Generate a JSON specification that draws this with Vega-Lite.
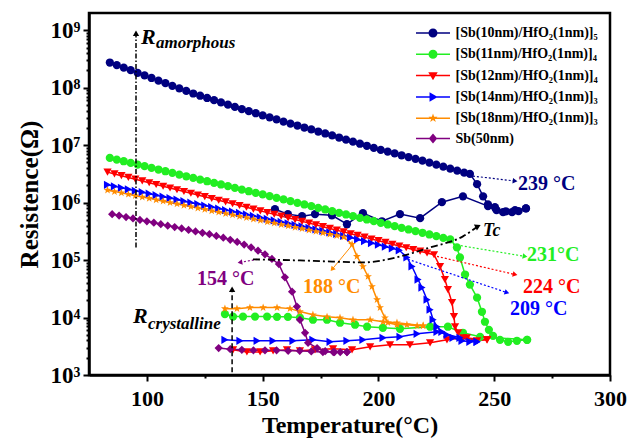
{
"$schema":"https://vega.github.io/schema/vega-lite/v6.json",
"width":521,"height":362,
"autosize":{"type":"none"},
"padding":{"left":89,"top":13,"right":31,"bottom":67},
"background":"white",
"resolve":{"scale":{"shape":"independent"},"legend":{"color":"independent","shape":"independent"}},
"config":{
"view":{"stroke":"black","strokeWidth":2.5},
"font":"Liberation Serif, Times New Roman, DejaVu Serif, serif",
"axis":{"domainColor":"black","domainWidth":2.5,"tickColor":"black","tickWidth":2,"labelColor":"black","titleColor":"black","labelFont":"Liberation Serif, Times New Roman, DejaVu Serif, serif","titleFont":"Liberation Serif, Times New Roman, DejaVu Serif, serif","labelFontWeight":"bold","titleFontWeight":"bold","grid":false},
"legend":{"labelFont":"Liberation Serif, Times New Roman, DejaVu Serif, serif","labelFontWeight":"bold","labelFontSize":14,"labelColor":"black"}
},
"datasets":{
"curves":[
{"s":"A","run":"h","T":84,"R":2.75e8},{"s":"A","run":"h","T":87,"R":2.48e8},{"s":"A","run":"h","T":90,"R":2.24e8},{"s":"A","run":"h","T":93,"R":2.02e8},{"s":"A","run":"h","T":96,"R":1.82e8},{"s":"A","run":"h","T":99,"R":1.64e8},{"s":"A","run":"h","T":102,"R":1.48e8},{"s":"A","run":"h","T":105,"R":1.33e8},{"s":"A","run":"h","T":108,"R":1.2e8},{"s":"A","run":"h","T":111,"R":1.08e8},{"s":"A","run":"h","T":114,"R":9.77e7},{"s":"A","run":"h","T":117,"R":8.81e7},{"s":"A","run":"h","T":120,"R":7.94e7},{"s":"A","run":"h","T":123,"R":7.26e7},{"s":"A","run":"h","T":126,"R":6.64e7},{"s":"A","run":"h","T":129,"R":6.07e7},{"s":"A","run":"h","T":132,"R":5.55e7},{"s":"A","run":"h","T":135,"R":5.07e7},{"s":"A","run":"h","T":138,"R":4.63e7},{"s":"A","run":"h","T":141,"R":4.25e7},{"s":"A","run":"h","T":144,"R":3.91e7},{"s":"A","run":"h","T":147,"R":3.6e7},{"s":"A","run":"h","T":150,"R":3.31e7},{"s":"A","run":"h","T":153,"R":3.05e7},{"s":"A","run":"h","T":156,"R":2.81e7},{"s":"A","run":"h","T":159,"R":2.58e7},{"s":"A","run":"h","T":162,"R":2.38e7},{"s":"A","run":"h","T":165,"R":2.2e7},{"s":"A","run":"h","T":168,"R":2.03e7},{"s":"A","run":"h","T":171,"R":1.88e7},{"s":"A","run":"h","T":174,"R":1.73e7},{"s":"A","run":"h","T":177,"R":1.6e7},{"s":"A","run":"h","T":180,"R":1.48e7},{"s":"A","run":"h","T":183,"R":1.36e7},{"s":"A","run":"h","T":186,"R":1.25e7},{"s":"A","run":"h","T":189,"R":1.15e7},{"s":"A","run":"h","T":192,"R":1.06e7},{"s":"A","run":"h","T":195,"R":9.77e6},{"s":"A","run":"h","T":198,"R":8.99e6},{"s":"A","run":"h","T":201,"R":8.31e6},{"s":"A","run":"h","T":204,"R":7.73e6},{"s":"A","run":"h","T":207,"R":7.19e6},{"s":"A","run":"h","T":210,"R":6.68e6},{"s":"A","run":"h","T":213,"R":6.22e6},{"s":"A","run":"h","T":216,"R":5.78e6},{"s":"A","run":"h","T":219,"R":5.38e6},{"s":"A","run":"h","T":222,"R":4.98e6},{"s":"A","run":"h","T":225,"R":4.59e6},{"s":"A","run":"h","T":228,"R":4.25e6},{"s":"A","run":"h","T":231,"R":3.92e6},{"s":"A","run":"h","T":234,"R":3.61e6},{"s":"A","run":"h","T":237,"R":3.33e6},{"s":"A","run":"h","T":239.5,"R":3.16e6},{"s":"A","run":"h","T":242.6,"R":2.1e6},{"s":"A","run":"h","T":245.2,"R":1.29e6},{"s":"A","run":"h","T":247.3,"R":9.33e5},{"s":"A","run":"h","T":250.3,"R":8.32e5},{"s":"A","run":"h","T":253.8,"R":6.82e5},{"s":"A","run":"h","T":257.7,"R":6.82e5},{"s":"A","run":"h","T":260.5,"R":7.1e5},{"s":"A","run":"h","T":263.7,"R":7.94e5},
{"s":"A","run":"c","T":263.7,"R":7.94e5},{"s":"A","run":"c","T":259,"R":7.41e5},{"s":"A","run":"c","T":255,"R":7.08e5},{"s":"A","run":"c","T":251,"R":7.41e5},{"s":"A","run":"c","T":247.3,"R":8.71e5},{"s":"A","run":"c","T":236.5,"R":1.29e6},{"s":"A","run":"c","T":227.4,"R":1.02e6},{"s":"A","run":"c","T":218,"R":5.37e5},{"s":"A","run":"c","T":209.3,"R":6.31e5},{"s":"A","run":"c","T":201.5,"R":4.74e5},{"s":"A","run":"c","T":193.3,"R":6.55e5},{"s":"A","run":"c","T":186.4,"R":4.21e5},{"s":"A","run":"c","T":179.9,"R":6.03e5},{"s":"A","run":"c","T":172.6,"R":6.31e5},{"s":"A","run":"c","T":167,"R":5.81e5},{"s":"A","run":"c","T":160.9,"R":6.31e5},{"s":"A","run":"c","T":155.3,"R":7.69e5},
{"s":"B","run":"h","T":84,"R":6.01e6},{"s":"B","run":"h","T":87,"R":5.62e6},{"s":"B","run":"h","T":90,"R":5.26e6},{"s":"B","run":"h","T":93,"R":4.92e6},{"s":"B","run":"h","T":96,"R":4.6e6},{"s":"B","run":"h","T":99,"R":4.31e6},{"s":"B","run":"h","T":102,"R":4.03e6},{"s":"B","run":"h","T":105,"R":3.77e6},{"s":"B","run":"h","T":108,"R":3.52e6},{"s":"B","run":"h","T":111,"R":3.3e6},{"s":"B","run":"h","T":114,"R":3.08e6},{"s":"B","run":"h","T":117,"R":2.88e6},{"s":"B","run":"h","T":120,"R":2.7e6},{"s":"B","run":"h","T":123,"R":2.52e6},{"s":"B","run":"h","T":126,"R":2.36e6},{"s":"B","run":"h","T":129,"R":2.21e6},{"s":"B","run":"h","T":132,"R":2.07e6},{"s":"B","run":"h","T":135,"R":1.94e6},{"s":"B","run":"h","T":138,"R":1.81e6},{"s":"B","run":"h","T":141,"R":1.69e6},{"s":"B","run":"h","T":144,"R":1.58e6},{"s":"B","run":"h","T":147,"R":1.48e6},{"s":"B","run":"h","T":150,"R":1.39e6},{"s":"B","run":"h","T":153,"R":1.3e6},{"s":"B","run":"h","T":156,"R":1.21e6},{"s":"B","run":"h","T":159,"R":1.14e6},{"s":"B","run":"h","T":162,"R":1.06e6},{"s":"B","run":"h","T":165,"R":9.93e5},{"s":"B","run":"h","T":168,"R":9.29e5},{"s":"B","run":"h","T":171,"R":8.69e5},{"s":"B","run":"h","T":174,"R":8.13e5},{"s":"B","run":"h","T":177,"R":7.6e5},{"s":"B","run":"h","T":180,"R":7.11e5},{"s":"B","run":"h","T":183,"R":6.65e5},{"s":"B","run":"h","T":186,"R":6.22e5},{"s":"B","run":"h","T":189,"R":5.82e5},{"s":"B","run":"h","T":192,"R":5.44e5},{"s":"B","run":"h","T":195,"R":5.09e5},{"s":"B","run":"h","T":198,"R":4.76e5},{"s":"B","run":"h","T":201,"R":4.46e5},{"s":"B","run":"h","T":204,"R":4.17e5},{"s":"B","run":"h","T":207,"R":3.9e5},{"s":"B","run":"h","T":210,"R":3.65e5},{"s":"B","run":"h","T":213,"R":3.41e5},{"s":"B","run":"h","T":216,"R":3.19e5},{"s":"B","run":"h","T":219,"R":2.99e5},{"s":"B","run":"h","T":222,"R":2.79e5},{"s":"B","run":"h","T":225,"R":2.61e5},{"s":"B","run":"h","T":228,"R":2.44e5},{"s":"B","run":"h","T":231,"R":2.29e5},{"s":"B","run":"h","T":233.9,"R":1.66e5},{"s":"B","run":"h","T":235.2,"R":1.11e5},{"s":"B","run":"h","T":237.4,"R":5.61e4},{"s":"B","run":"h","T":239.5,"R":3.75e4},{"s":"B","run":"h","T":242.6,"R":2.22e4},{"s":"B","run":"h","T":244.7,"R":1.26e4},{"s":"B","run":"h","T":246,"R":8.45e3},{"s":"B","run":"h","T":247.7,"R":6.12e3},{"s":"B","run":"h","T":249.5,"R":4.81e3},{"s":"B","run":"h","T":252.5,"R":4.09e3},{"s":"B","run":"h","T":256,"R":3.78e3},{"s":"B","run":"h","T":259.8,"R":3.94e3},{"s":"B","run":"h","T":264.2,"R":4.09e3},
{"s":"B","run":"c","T":264.2,"R":4.09e3},{"s":"B","run":"c","T":243.9,"R":4.62e3},{"s":"B","run":"c","T":236.5,"R":5.43e3},{"s":"B","run":"c","T":230,"R":6.92e3},{"s":"B","run":"c","T":222.3,"R":6.92e3},{"s":"B","run":"c","T":209.3,"R":6.38e3},{"s":"B","run":"c","T":201.9,"R":6.64e3},{"s":"B","run":"c","T":195.1,"R":6.92e3},{"s":"B","run":"c","T":189.9,"R":7.5e3},{"s":"B","run":"c","T":183.4,"R":8.13e3},{"s":"B","run":"c","T":177.8,"R":9.16e3},{"s":"B","run":"c","T":171.7,"R":9.16e3},{"s":"B","run":"c","T":166.1,"R":9.93e3},{"s":"B","run":"c","T":160.9,"R":1.03e4},{"s":"B","run":"c","T":156.2,"R":1.03e4},{"s":"B","run":"c","T":151.9,"R":1.04e4},{"s":"B","run":"c","T":146.7,"R":1.04e4},{"s":"B","run":"c","T":141.5,"R":1.04e4},{"s":"B","run":"c","T":137.2,"R":1.04e4},{"s":"B","run":"c","T":133.7,"R":1.15e4},
{"s":"C","run":"h","T":83,"R":3.4e6},{"s":"C","run":"h","T":86,"R":3.16e6},{"s":"C","run":"h","T":89,"R":2.95e6},{"s":"C","run":"h","T":92,"R":2.75e6},{"s":"C","run":"h","T":95,"R":2.56e6},{"s":"C","run":"h","T":98,"R":2.39e6},{"s":"C","run":"h","T":101,"R":2.22e6},{"s":"C","run":"h","T":104,"R":2.07e6},{"s":"C","run":"h","T":107,"R":1.93e6},{"s":"C","run":"h","T":110,"R":1.8e6},{"s":"C","run":"h","T":113,"R":1.68e6},{"s":"C","run":"h","T":116,"R":1.56e6},{"s":"C","run":"h","T":119,"R":1.46e6},{"s":"C","run":"h","T":122,"R":1.36e6},{"s":"C","run":"h","T":125,"R":1.27e6},{"s":"C","run":"h","T":128,"R":1.18e6},{"s":"C","run":"h","T":131,"R":1.1e6},{"s":"C","run":"h","T":134,"R":1.03e6},{"s":"C","run":"h","T":137,"R":9.55e5},{"s":"C","run":"h","T":140,"R":8.91e5},{"s":"C","run":"h","T":143,"R":8.3e5},{"s":"C","run":"h","T":146,"R":7.73e5},{"s":"C","run":"h","T":149,"R":7.21e5},{"s":"C","run":"h","T":152,"R":6.71e5},{"s":"C","run":"h","T":155,"R":6.27e5},{"s":"C","run":"h","T":158,"R":5.83e5},{"s":"C","run":"h","T":161,"R":5.43e5},{"s":"C","run":"h","T":164,"R":5.07e5},{"s":"C","run":"h","T":167,"R":4.72e5},{"s":"C","run":"h","T":170,"R":4.41e5},{"s":"C","run":"h","T":173,"R":4.1e5},{"s":"C","run":"h","T":176,"R":3.82e5},{"s":"C","run":"h","T":179,"R":3.56e5},{"s":"C","run":"h","T":182,"R":3.32e5},{"s":"C","run":"h","T":185,"R":3.1e5},{"s":"C","run":"h","T":188,"R":2.88e5},{"s":"C","run":"h","T":191,"R":2.69e5},{"s":"C","run":"h","T":194,"R":2.51e5},{"s":"C","run":"h","T":197,"R":2.33e5},{"s":"C","run":"h","T":200,"R":2.18e5},{"s":"C","run":"h","T":203,"R":2.03e5},{"s":"C","run":"h","T":206,"R":1.89e5},{"s":"C","run":"h","T":209,"R":1.76e5},{"s":"C","run":"h","T":212,"R":1.64e5},{"s":"C","run":"h","T":215,"R":1.53e5},{"s":"C","run":"h","T":218,"R":1.43e5},{"s":"C","run":"h","T":221,"R":1.33e5},{"s":"C","run":"h","T":224,"R":1.24e5},{"s":"C","run":"h","T":226.6,"R":7.74e4},{"s":"C","run":"h","T":228.7,"R":4.59e4},{"s":"C","run":"h","T":230,"R":3.07e4},{"s":"C","run":"h","T":231.8,"R":1.82e4},{"s":"C","run":"h","T":232.6,"R":1.04e4},{"s":"C","run":"h","T":233.1,"R":6.92e3},{"s":"C","run":"h","T":234.4,"R":5.43e3},{"s":"C","run":"h","T":238.2,"R":4.44e3},{"s":"C","run":"h","T":242.6,"R":3.94e3},{"s":"C","run":"h","T":246.9,"R":4.09e3},
{"s":"C","run":"c","T":246.9,"R":4.09e3},{"s":"C","run":"c","T":236.5,"R":4.44e3},{"s":"C","run":"c","T":229.6,"R":4.09e3},{"s":"C","run":"c","T":222.3,"R":3.63e3},{"s":"C","run":"c","T":213.6,"R":3.35e3},{"s":"C","run":"c","T":205,"R":3.35e3},{"s":"C","run":"c","T":196.4,"R":3.09e3},{"s":"C","run":"c","T":188.6,"R":2.74e3},{"s":"C","run":"c","T":180.4,"R":2.85e3},{"s":"C","run":"c","T":172.6,"R":2.74e3},{"s":"C","run":"c","T":166.1,"R":2.63e3},{"s":"C","run":"c","T":160.5,"R":2.74e3},{"s":"C","run":"c","T":154.5,"R":2.63e3},{"s":"C","run":"c","T":148.9,"R":2.52e3},{"s":"C","run":"c","T":143.2,"R":2.52e3},{"s":"C","run":"c","T":137.2,"R":2.74e3},
{"s":"D","run":"h","T":83,"R":2.04e6},{"s":"D","run":"h","T":86,"R":1.92e6},{"s":"D","run":"h","T":89,"R":1.81e6},{"s":"D","run":"h","T":92,"R":1.71e6},{"s":"D","run":"h","T":95,"R":1.61e6},{"s":"D","run":"h","T":98,"R":1.52e6},{"s":"D","run":"h","T":101,"R":1.43e6},{"s":"D","run":"h","T":104,"R":1.35e6},{"s":"D","run":"h","T":107,"R":1.27e6},{"s":"D","run":"h","T":110,"R":1.2e6},{"s":"D","run":"h","T":113,"R":1.13e6},{"s":"D","run":"h","T":116,"R":1.06e6},{"s":"D","run":"h","T":119,"R":1e6},{"s":"D","run":"h","T":122,"R":9.44e5},{"s":"D","run":"h","T":125,"R":8.89e5},{"s":"D","run":"h","T":128,"R":8.38e5},{"s":"D","run":"h","T":131,"R":7.89e5},{"s":"D","run":"h","T":134,"R":7.43e5},{"s":"D","run":"h","T":137,"R":7.01e5},{"s":"D","run":"h","T":140,"R":6.61e5},{"s":"D","run":"h","T":143,"R":6.22e5},{"s":"D","run":"h","T":146,"R":5.86e5},{"s":"D","run":"h","T":149,"R":5.52e5},{"s":"D","run":"h","T":152,"R":5.21e5},{"s":"D","run":"h","T":155,"R":4.91e5},{"s":"D","run":"h","T":158,"R":4.62e5},{"s":"D","run":"h","T":161,"R":4.36e5},{"s":"D","run":"h","T":164,"R":4.1e5},{"s":"D","run":"h","T":167,"R":3.87e5},{"s":"D","run":"h","T":170,"R":3.65e5},{"s":"D","run":"h","T":173,"R":3.44e5},{"s":"D","run":"h","T":176,"R":3.24e5},{"s":"D","run":"h","T":179,"R":3.05e5},{"s":"D","run":"h","T":182,"R":2.85e5},{"s":"D","run":"h","T":185,"R":2.65e5},{"s":"D","run":"h","T":188,"R":2.47e5},{"s":"D","run":"h","T":191,"R":2.29e5},{"s":"D","run":"h","T":194,"R":2.13e5},{"s":"D","run":"h","T":197,"R":1.98e5},{"s":"D","run":"h","T":200,"R":1.85e5},{"s":"D","run":"h","T":203,"R":1.71e5},{"s":"D","run":"h","T":206,"R":1.6e5},{"s":"D","run":"h","T":209,"R":1.48e5},{"s":"D","run":"h","T":212.3,"R":1.11e5},{"s":"D","run":"h","T":214.5,"R":7.74e4},{"s":"D","run":"h","T":217.1,"R":4.59e4},{"s":"D","run":"h","T":218.8,"R":3.33e4},{"s":"D","run":"h","T":221,"R":2.05e4},{"s":"D","run":"h","T":222.3,"R":1.37e4},{"s":"D","run":"h","T":223.6,"R":9.16e3},{"s":"D","run":"h","T":225.3,"R":6.92e3},{"s":"D","run":"h","T":227.4,"R":5.65e3},{"s":"D","run":"h","T":229.6,"R":5.01e3},{"s":"D","run":"h","T":232.2,"R":4.44e3},{"s":"D","run":"h","T":236.1,"R":3.94e3},{"s":"D","run":"h","T":239.5,"R":3.78e3},{"s":"D","run":"h","T":242.6,"R":3.78e3},
{"s":"D","run":"c","T":242.6,"R":3.78e3},{"s":"D","run":"c","T":235.2,"R":4.44e3},{"s":"D","run":"c","T":225.3,"R":5.65e3},{"s":"D","run":"c","T":216.7,"R":5.21e3},{"s":"D","run":"c","T":209.3,"R":4.62e3},{"s":"D","run":"c","T":202,"R":4.44e3},{"s":"D","run":"c","T":193.3,"R":4.09e3},{"s":"D","run":"c","T":186.4,"R":3.94e3},{"s":"D","run":"c","T":179.1,"R":3.78e3},{"s":"D","run":"c","T":171.7,"R":4.09e3},{"s":"D","run":"c","T":163.1,"R":3.94e3},{"s":"D","run":"c","T":154.5,"R":3.94e3},{"s":"D","run":"c","T":147.6,"R":3.94e3},{"s":"D","run":"c","T":140.2,"R":3.94e3},{"s":"D","run":"c","T":133.7,"R":4.09e3},
{"s":"E","run":"h","T":83,"R":1.65e6},{"s":"E","run":"h","T":86,"R":1.56e6},{"s":"E","run":"h","T":89,"R":1.48e6},{"s":"E","run":"h","T":92,"R":1.4e6},{"s":"E","run":"h","T":95,"R":1.32e6},{"s":"E","run":"h","T":98,"R":1.25e6},{"s":"E","run":"h","T":101,"R":1.19e6},{"s":"E","run":"h","T":104,"R":1.12e6},{"s":"E","run":"h","T":107,"R":1.06e6},{"s":"E","run":"h","T":110,"R":1e6},{"s":"E","run":"h","T":113,"R":9.51e5},{"s":"E","run":"h","T":116,"R":8.99e5},{"s":"E","run":"h","T":119,"R":8.51e5},{"s":"E","run":"h","T":122,"R":8.05e5},{"s":"E","run":"h","T":125,"R":7.62e5},{"s":"E","run":"h","T":128,"R":7.21e5},{"s":"E","run":"h","T":131,"R":6.82e5},{"s":"E","run":"h","T":134,"R":6.46e5},{"s":"E","run":"h","T":137,"R":6.11e5},{"s":"E","run":"h","T":140,"R":5.78e5},{"s":"E","run":"h","T":143,"R":5.47e5},{"s":"E","run":"h","T":146,"R":5.18e5},{"s":"E","run":"h","T":149,"R":4.9e5},{"s":"E","run":"h","T":152,"R":4.63e5},{"s":"E","run":"h","T":155,"R":4.39e5},{"s":"E","run":"h","T":158,"R":4.15e5},{"s":"E","run":"h","T":161,"R":3.93e5},{"s":"E","run":"h","T":164,"R":3.72e5},{"s":"E","run":"h","T":167,"R":3.52e5},{"s":"E","run":"h","T":170,"R":3.33e5},{"s":"E","run":"h","T":173,"R":3.15e5},{"s":"E","run":"h","T":176,"R":2.98e5},{"s":"E","run":"h","T":179,"R":2.82e5},{"s":"E","run":"h","T":182,"R":2.67e5},{"s":"E","run":"h","T":185,"R":2.52e5},{"s":"E","run":"h","T":188.6,"R":1.88e5},{"s":"E","run":"h","T":190.7,"R":1.16e5},{"s":"E","run":"h","T":193.3,"R":7.74e4},{"s":"E","run":"h","T":195.5,"R":5.18e4},{"s":"E","run":"h","T":197.2,"R":3.46e4},{"s":"E","run":"h","T":199.4,"R":2.05e4},{"s":"E","run":"h","T":200.7,"R":1.49e4},{"s":"E","run":"h","T":202.8,"R":9.93e3},{"s":"E","run":"h","T":204.1,"R":8.13e3},{"s":"E","run":"h","T":208,"R":7.5e3},{"s":"E","run":"h","T":212.3,"R":7.5e3},{"s":"E","run":"h","T":216.7,"R":7.2e3},{"s":"E","run":"h","T":219.3,"R":7.2e3},
{"s":"E","run":"c","T":219.3,"R":7.2e3},{"s":"E","run":"c","T":208,"R":8.13e3},{"s":"E","run":"c","T":202,"R":8.45e3},{"s":"E","run":"c","T":196.4,"R":9.16e3},{"s":"E","run":"c","T":189,"R":9.16e3},{"s":"E","run":"c","T":183.4,"R":9.93e3},{"s":"E","run":"c","T":177.8,"R":1.03e4},{"s":"E","run":"c","T":171.7,"R":1.12e4},{"s":"E","run":"c","T":166.1,"R":1.27e4},{"s":"E","run":"c","T":161.8,"R":1.43e4},{"s":"E","run":"c","T":156.2,"R":1.49e4},{"s":"E","run":"c","T":150.2,"R":1.49e4},{"s":"E","run":"c","T":144.5,"R":1.49e4},{"s":"E","run":"c","T":138.9,"R":1.43e4},{"s":"E","run":"c","T":133.7,"R":1.43e4},
{"s":"F","run":"h","T":85,"R":6.31e5},{"s":"F","run":"h","T":88,"R":5.96e5},{"s":"F","run":"h","T":91,"R":5.62e5},{"s":"F","run":"h","T":94,"R":5.31e5},{"s":"F","run":"h","T":97,"R":5.01e5},{"s":"F","run":"h","T":100,"R":4.73e5},{"s":"F","run":"h","T":103,"R":4.47e5},{"s":"F","run":"h","T":106,"R":4.22e5},{"s":"F","run":"h","T":109,"R":3.98e5},{"s":"F","run":"h","T":112,"R":3.76e5},{"s":"F","run":"h","T":115,"R":3.55e5},{"s":"F","run":"h","T":118,"R":3.35e5},{"s":"F","run":"h","T":121,"R":3.16e5},{"s":"F","run":"h","T":124,"R":2.99e5},{"s":"F","run":"h","T":127,"R":2.82e5},{"s":"F","run":"h","T":130,"R":2.63e5},{"s":"F","run":"h","T":133,"R":2.45e5},{"s":"F","run":"h","T":136,"R":2.26e5},{"s":"F","run":"h","T":139,"R":2.07e5},{"s":"F","run":"h","T":142,"R":1.86e5},{"s":"F","run":"h","T":145,"R":1.66e5},{"s":"F","run":"h","T":148,"R":1.46e5},{"s":"F","run":"h","T":151,"R":1.26e5},{"s":"F","run":"h","T":154,"R":1.05e5},{"s":"F","run":"h","T":157,"R":8.51e4},{"s":"F","run":"h","T":159.6,"R":5.01e4},{"s":"F","run":"h","T":162.7,"R":2.82e4},{"s":"F","run":"h","T":164.8,"R":1.55e4},{"s":"F","run":"h","T":166.1,"R":9.12e3},{"s":"F","run":"h","T":168.3,"R":5.43e3},{"s":"F","run":"h","T":169.6,"R":3.63e3},{"s":"F","run":"h","T":173.5,"R":2.95e3},{"s":"F","run":"h","T":177,"R":2.6e3},{"s":"F","run":"h","T":180.5,"R":2.51e3},{"s":"F","run":"h","T":183.5,"R":2.51e3},{"s":"F","run":"h","T":186.4,"R":2.51e3},
{"s":"F","run":"c","T":186.4,"R":2.51e3},{"s":"F","run":"c","T":181,"R":2.51e3},{"s":"F","run":"c","T":176,"R":2.51e3},{"s":"F","run":"c","T":171,"R":2.57e3},{"s":"F","run":"c","T":166,"R":2.63e3},{"s":"F","run":"c","T":161,"R":2.63e3},{"s":"F","run":"c","T":156,"R":2.69e3},{"s":"F","run":"c","T":151,"R":2.69e3},{"s":"F","run":"c","T":146,"R":2.69e3},{"s":"F","run":"c","T":141,"R":2.75e3},{"s":"F","run":"c","T":136,"R":2.82e3},{"s":"F","run":"c","T":131,"R":2.95e3}
],
"arrows":[
{"a":"a239","s":"A","T":240.8,"R":2.9e6},{"a":"a239","s":"A","T":259,"R":2.38e6},
{"a":"a231","s":"B","T":232.2,"R":1.88e5},{"a":"a231","s":"B","T":263.3,"R":1.16e5},
{"a":"a224","s":"C","T":225.3,"R":1.16e5},{"a":"a224","s":"C","T":259,"R":5.61e4},
{"a":"a209","s":"D","T":212.8,"R":1.03e5},{"a":"a209","s":"D","T":255.5,"R":2.72e4},
{"a":"a188","s":"E","T":188.9,"R":1.88e5},{"a":"a188","s":"E","T":180,"R":6.92e4},
{"a":"a154","s":"F","T":147.6,"R":1.03e5},{"a":"a154","s":"F","T":140.2,"R":9.1e4}
],
"heads":[
{"a":"a239","s":"A","T":259,"R":2.38e6},
{"a":"a231","s":"B","T":263.3,"R":1.16e5},
{"a":"a224","s":"C","T":259,"R":5.61e4},
{"a":"a209","s":"D","T":255.5,"R":2.72e4},
{"a":"a188","s":"E","T":180,"R":6.92e4},
{"a":"a154","s":"F","T":140.2,"R":9.1e4}
],
"tc":[
{"T":145.8,"R":1.03e5},{"T":166.1,"R":9.86e4},{"T":180,"R":9.44e4},{"T":193.3,"R":9.12e4},{"T":208,"R":1.12e5},{"T":222.3,"R":1.66e5},{"T":236.5,"R":2.59e5},{"T":243,"R":3.88e5}
],
"vlines":[
{"v":"am","T":95.3,"R":1.66e5},{"v":"am","T":95.3,"R":8.5e8},
{"v":"cr","T":136.8,"R":1.12e3},{"v":"cr","T":136.8,"R":2.9e4}
],
"bheads":[
{"h":"tc","T":243,"R":3.88e5},{"h":"am","T":95.3,"R":8.9e8},{"h":"cr","T":136.8,"R":3.1e4}
],
"notes":[
{"s":"A","T":260.3,"R":1.65e6,"txt":"239 °C"},
{"s":"B","T":264.2,"R":9.48e4,"txt":"231°C"},
{"s":"C","T":262.4,"R":2.72e4,"txt":"224 °C"},
{"s":"D","T":256.8,"R":1.12e4,"txt":"209 °C"},
{"s":"E","T":167.4,"R":2.72e4,"txt":"188 °C"},
{"s":"F","T":121.6,"R":3.75e4,"txt":"154 °C"}
],
"btext":[
{"k":"big","txt":"R","T":97.5,"R":5.69e8},
{"k":"sub","txt":"amorphous","T":103.9,"R":4.84e8},
{"k":"big","txt":"R","T":94,"R":8.13e3},
{"k":"sub","txt":"crystalline","T":100.5,"R":6.38e3},
{"k":"tc","txt":"Tc","T":245.2,"R":2.59e5}
]
},
"encoding":{
"x":{"field":"T","type":"quantitative","scale":{"domain":[75,300],"nice":false,"zero":false},
"axis":{"title":"Temperature(°C)","values":[100,125,150,175,200,225,250,275,300],"labelExpr":"datum.value % 50 == 0 ? format(datum.value,'d') : ''","tickSize":{"condition":{"test":"datum.value % 50 != 0","value":3},"value":6},"labelFontSize":22,"labelPadding":7,"labelFlush":false,"labelOverlap":false,"titleFontSize":24,"titlePadding":4}},
"y":{"field":"R","type":"quantitative","scale":{"type":"log","domain":[1000,2e9],"nice":false},
"axis":{"title":"Resistence(Ω)","values":[1e3,2e3,3e3,4e3,5e3,6e3,7e3,8e3,9e3,1e4,2e4,3e4,4e4,5e4,6e4,7e4,8e4,9e4,1e5,2e5,3e5,4e5,5e5,6e5,7e5,8e5,9e5,1e6,2e6,3e6,4e6,5e6,6e6,7e6,8e6,9e6,1e7,2e7,3e7,4e7,5e7,6e7,7e7,8e7,9e7,1e8,2e8,3e8,4e8,5e8,6e8,7e8,8e8,9e8,1e9],
"labelExpr":"abs(log(datum.value)/LN10 - round(log(datum.value)/LN10)) < 0.01 ? '10' + ['⁰','¹','²','³','⁴','⁵','⁶','⁷','⁸','⁹'][round(log(datum.value)/LN10)] : ''",
"tickSize":{"condition":{"test":"abs(log(datum.value)/LN10 - round(log(datum.value)/LN10)) > 0.01","value":3},"value":6},
"labelFontSize":23,"labelPadding":3,"labelOverlap":false,"labelFlush":false,"titleFontSize":25,"titlePadding":8}}
},
"layer":[
{"data":{"name":"curves"},"mark":{"type":"line","strokeWidth":1.5},
"encoding":{"color":{"field":"s","type":"nominal","scale":{"domain":["A","B","C","D","E","F"],"range":["#000080","#22ee22","#ff0000","#0000ff","#ff8c00","#800080"]},"legend":null},"detail":{"field":"run"}}},
{"data":{"name":"curves"},"mark":{"type":"point","filled":true,"size":68,"opacity":1},
"encoding":{"color":{"field":"s","type":"nominal","legend":null},
"shape":{"field":"s","type":"nominal","scale":{"domain":["A","B","C","D","E","F"],"range":["circle","circle","triangle-down","triangle-right","M0,-1L0.235,-0.324L0.951,-0.309L0.38,0.124L0.588,0.809L0,0.4L-0.588,0.809L-0.38,0.124L-0.951,-0.309L-0.235,-0.324Z","diamond"]},"legend":null}}},
{"data":{"name":"curves"},"mark":{"type":"point","filled":true,"size":5,"opacity":0},
"encoding":{
"color":{"field":"s","type":"nominal","legend":{"title":null,"orient":"none","legendX":332.5,"legendY":8.5,"symbolSize":441,"symbolOpacity":1,"labelOffset":11,"rowPadding":1.3,"padding":0,"labelLimit":300,
"labelExpr":"datum.value=='A' ? '[Sb(10nm)/HfO₂(1nm)]₅' : datum.value=='B' ? '[Sb(11nm)/HfO₂(1nm)]₄' : datum.value=='C' ? '[Sb(12nm)/HfO₂(1nm)]₄' : datum.value=='D' ? '[Sb(14nm)/HfO₂(1nm)]₃' : datum.value=='E' ? '[Sb(18nm)/HfO₂(1nm)]₃' : 'Sb(50nm)'"}},
"shape":{"field":"s","type":"nominal","scale":{"domain":["A","B","C","D","E","F"],"range":[
"M-1.62,-0.07L1.62,-0.07L1.62,0.07L-1.62,0.07ZM0.43,0A0.43,0.43,0,1,1,-0.43,0A0.43,0.43,0,1,1,0.43,0Z",
"M-1.62,-0.07L1.62,-0.07L1.62,0.07L-1.62,0.07ZM0.43,0A0.43,0.43,0,1,1,-0.43,0A0.43,0.43,0,1,1,0.43,0Z",
"M-1.62,-0.07L1.62,-0.07L1.62,0.07L-1.62,0.07ZM-0.45,-0.33L0.45,-0.33L0,0.45Z",
"M-1.62,-0.07L1.62,-0.07L1.62,0.07L-1.62,0.07ZM-0.33,-0.45L0.45,0L-0.33,0.45Z",
"M-1.62,-0.07L1.62,-0.07L1.62,0.07L-1.62,0.07ZM0,-0.45L0.106,-0.146L0.428,-0.139L0.171,0.056L0.265,0.364L0,0.18L-0.265,0.364L-0.171,0.056L-0.428,-0.139L-0.106,-0.146Z",
"M-1.62,-0.07L1.62,-0.07L1.62,0.07L-1.62,0.07ZM0,-0.48L0.4,0L0,0.48L-0.4,0Z"]},
"legend":{"title":null,"orient":"none","legendX":332.5,"legendY":8.5,"symbolSize":441,"symbolOpacity":1,"labelOffset":11,"rowPadding":1.3,"padding":0,"labelLimit":300,
"labelExpr":"datum.value=='A' ? '[Sb(10nm)/HfO₂(1nm)]₅' : datum.value=='B' ? '[Sb(11nm)/HfO₂(1nm)]₄' : datum.value=='C' ? '[Sb(12nm)/HfO₂(1nm)]₄' : datum.value=='D' ? '[Sb(14nm)/HfO₂(1nm)]₃' : datum.value=='E' ? '[Sb(18nm)/HfO₂(1nm)]₃' : 'Sb(50nm)'"}}}},
{"data":{"name":"arrows"},"transform":[{"filter":"datum.a != 'a188'"}],"mark":{"type":"line","strokeWidth":1.2,"strokeDash":[2,2]},
"encoding":{"color":{"field":"s","type":"nominal","legend":null},"detail":{"field":"a"}}},
{"data":{"name":"arrows"},"transform":[{"filter":"datum.a == 'a188'"}],"mark":{"type":"line","strokeWidth":1},
"encoding":{"color":{"field":"s","type":"nominal","legend":null},"detail":{"field":"a"}}},
{"data":{"name":"heads"},"transform":[{"filter":"datum.a == 'a239'"}],"mark":{"type":"point","shape":"triangle-right","filled":true,"size":30,"opacity":1,"angle":7},"encoding":{"color":{"field":"s","type":"nominal","legend":null}}},
{"data":{"name":"heads"},"transform":[{"filter":"datum.a == 'a231'"}],"mark":{"type":"point","shape":"triangle-right","filled":true,"size":30,"opacity":1,"angle":10},"encoding":{"color":{"field":"s","type":"nominal","legend":null}}},
{"data":{"name":"heads"},"transform":[{"filter":"datum.a == 'a224'"}],"mark":{"type":"point","shape":"triangle-right","filled":true,"size":30,"opacity":1,"angle":13},"encoding":{"color":{"field":"s","type":"nominal","legend":null}}},
{"data":{"name":"heads"},"transform":[{"filter":"datum.a == 'a209'"}],"mark":{"type":"point","shape":"triangle-right","filled":true,"size":30,"opacity":1,"angle":18},"encoding":{"color":{"field":"s","type":"nominal","legend":null}}},
{"data":{"name":"heads"},"transform":[{"filter":"datum.a == 'a188'"}],"mark":{"type":"point","shape":"triangle-right","filled":true,"size":30,"opacity":1,"angle":130},"encoding":{"color":{"field":"s","type":"nominal","legend":null}}},
{"data":{"name":"heads"},"transform":[{"filter":"datum.a == 'a154'"}],"mark":{"type":"point","shape":"triangle-right","filled":true,"size":30,"opacity":1,"angle":171},"encoding":{"color":{"field":"s","type":"nominal","legend":null}}},
{"data":{"name":"tc"},"mark":{"type":"line","color":"black","strokeWidth":1.8,"strokeDash":[7,3,2,3],"interpolate":"monotone"},"encoding":{}},
{"data":{"name":"vlines"},"transform":[{"filter":"datum.v == 'am'"}],"mark":{"type":"line","color":"black","strokeWidth":1.5,"strokeDash":[5,2,1.5,2]},"encoding":{}},
{"data":{"name":"vlines"},"transform":[{"filter":"datum.v == 'cr'"}],"mark":{"type":"line","color":"black","strokeWidth":1.5,"strokeDash":[5,3]},"encoding":{}},
{"data":{"name":"bheads"},"transform":[{"filter":"datum.h == 'tc'"}],"mark":{"type":"point","shape":"triangle-right","filled":true,"size":45,"color":"black","opacity":1,"angle":-27}},
{"data":{"name":"bheads"},"transform":[{"filter":"datum.h != 'tc'"}],"mark":{"type":"point","shape":"triangle-up","filled":true,"size":40,"color":"black","opacity":1}},
{"data":{"name":"notes"},"mark":{"type":"text","align":"left","baseline":"alphabetic","font":"Liberation Serif, Times New Roman, DejaVu Serif, serif","fontWeight":"bold","fontSize":20},
"encoding":{"text":{"field":"txt"},"color":{"field":"s","type":"nominal","legend":null}}},
{"data":{"name":"btext"},"transform":[{"filter":"datum.k == 'big'"}],"mark":{"type":"text","align":"left","baseline":"alphabetic","font":"Liberation Serif, Times New Roman, DejaVu Serif, serif","fontWeight":"bold","fontStyle":"italic","fontSize":22,"color":"black"},"encoding":{"text":{"field":"txt"}}},
{"data":{"name":"btext"},"transform":[{"filter":"datum.k == 'sub'"}],"mark":{"type":"text","align":"left","baseline":"alphabetic","font":"Liberation Serif, Times New Roman, DejaVu Serif, serif","fontWeight":"bold","fontStyle":"italic","fontSize":17,"color":"black"},"encoding":{"text":{"field":"txt"}}},
{"data":{"name":"btext"},"transform":[{"filter":"datum.k == 'tc'"}],"mark":{"type":"text","align":"left","baseline":"alphabetic","font":"Liberation Serif, Times New Roman, DejaVu Serif, serif","fontWeight":"bold","fontStyle":"italic","fontSize":18,"color":"black"},"encoding":{"text":{"field":"txt"}}}
]
}
